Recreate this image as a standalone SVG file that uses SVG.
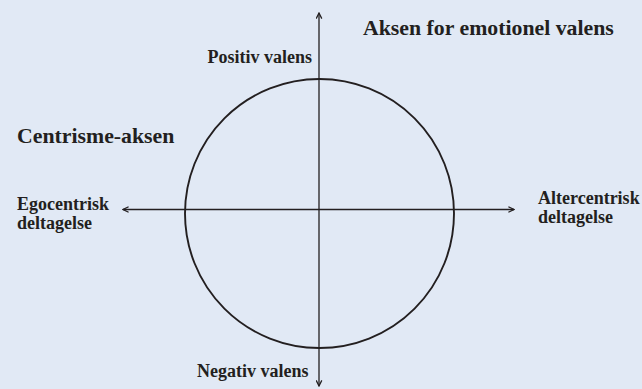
<svg xmlns="http://www.w3.org/2000/svg" width="642" height="389" viewBox="0 0 642 389">
<style>
text{font-family:"Liberation Serif","Times New Roman",serif;font-weight:bold;fill:#231f20}
.t{font-size:21.8px}
.l{font-size:18px}
.ax{stroke:#231f20;stroke-width:1.3;fill:none}
</style>
<defs>
<marker id="ah" viewBox="0 0 10 10" refX="9" refY="5" markerWidth="7" markerHeight="7" markerUnits="userSpaceOnUse" orient="auto">
<path d="M1,1 L9,5 L1,9" fill="none" stroke="#231f20" stroke-width="1.8"/>
</marker>
</defs>
<rect width="642" height="389" fill="#e1e9f5"/>
<g id="circle"><circle cx="319.5" cy="213.5" r="134.5" fill="none" stroke="#231f20" stroke-width="1.9"/></g>
<g id="connectors">
<line class="ax" x1="319" y1="212" x2="319" y2="13" marker-end="url(#ah)"/>
<line class="ax" x1="319" y1="212" x2="319" y2="386" marker-end="url(#ah)"/>
<line class="ax" x1="319" y1="209.5" x2="123" y2="209.5" marker-end="url(#ah)"/>
<line class="ax" x1="319" y1="209.5" x2="514" y2="209.5" marker-end="url(#ah)"/>
</g>
<g id="title-valens"><text class="t" x="363" y="35.3">Aksen for emotionel valens</text></g>
<g id="title-centrisme"><text class="t" x="17" y="143">Centrisme-aksen</text></g>
<g id="positiv"><text class="l" x="312" y="63" text-anchor="end">Positiv valens</text></g>
<g id="negativ"><text class="l" x="308.5" y="377.3" text-anchor="end">Negativ valens</text></g>
<g id="ego"><text class="l" x="17" y="209.5">Egocentrisk</text><text class="l" x="17" y="228.7">deltagelse</text></g>
<g id="alter"><text class="l" x="538" y="203.5">Altercentrisk</text><text class="l" x="538" y="222.7">deltagelse</text></g>
</svg>
